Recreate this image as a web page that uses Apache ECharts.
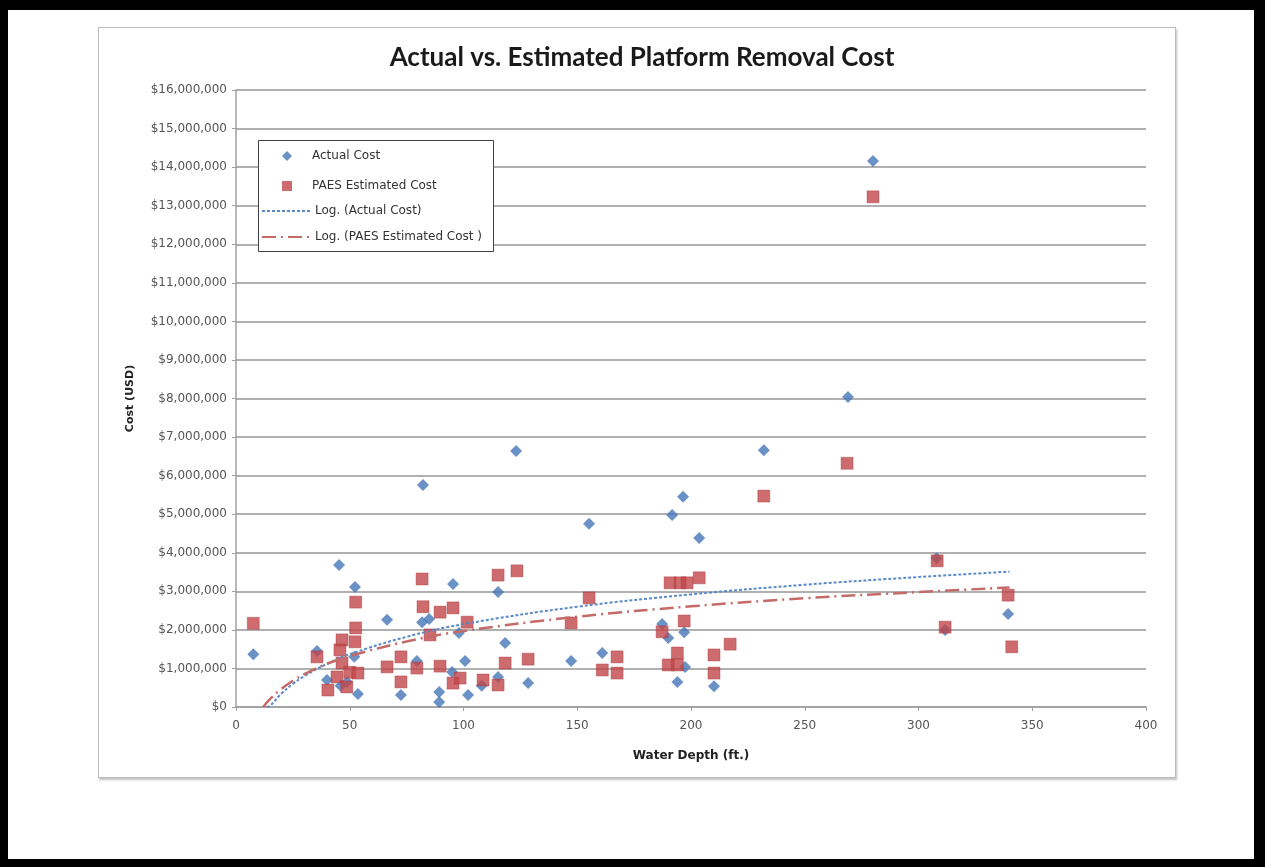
<!DOCTYPE html>
<html>
<head>
<meta charset="utf-8">
<script src="https://cdn.jsdelivr.net/npm/echarts@6/dist/echarts.min.js"></script>
<style>
html,body{margin:0;padding:0;width:1265px;height:867px;background:#000;overflow:hidden;}
#page{position:absolute;left:8px;top:10px;width:1246px;height:849px;background:#fff;}
#box{position:absolute;left:98px;top:27px;width:1076px;height:749px;border:1px solid #bcbcbc;box-shadow:1px 2px 2px rgba(0,0,0,0.25);background:#fff;}
#chart{position:absolute;left:0;top:0;width:1265px;height:867px;}
</style>
</head>
<body>
<div id="page"></div>
<div id="box"></div>
<div id="chart"></div>
<script>
// Water depth (ft.) and cost (USD)
const actualDepth = [7.6, 35.6, 40, 45.3, 46, 48.8, 52, 52.3, 53.6, 66.4, 72.5, 79.5, 81.8, 82.2, 84.9, 89.3, 89.3, 95, 95.4, 98, 100.7, 102, 108, 115.2, 115.2, 118.3, 123.1, 128.4, 147.3, 155.2, 161, 187.3, 190, 191.7, 194, 196.5, 197, 197.4, 203.6, 210.1, 232, 269, 280, 308, 311.7, 339.4];
const actualCost  = [1370000, 1450000, 700000, 3680000, 550000, 650000, 1300000, 3110000, 340000, 2260000, 310000, 1190000, 2200000, 5760000, 2280000, 390000, 130000, 910000, 3190000, 1920000, 1190000, 310000, 550000, 2980000, 780000, 1660000, 6640000, 620000, 1190000, 4750000, 1400000, 2150000, 1790000, 4980000, 650000, 5450000, 1940000, 1040000, 4380000, 540000, 6660000, 8040000, 14160000, 3860000, 2000000, 2410000];

const paesDepth = [7.6, 35.6, 40.4, 44.4, 45.7, 46.6, 46.6, 48.7, 50, 52.3, 52.6, 52.6, 53.6, 66.4, 72.5, 72.5, 79.5, 81.8, 82.2, 85.3, 89.7, 89.7, 95.4, 95.4, 98.5, 101.6, 108.6, 115.2, 115.2, 118.3, 123.5, 128.4, 147.3, 155.2, 161, 167.5, 167.5, 187.3, 190, 190.8, 194, 194, 195.2, 197, 198.3, 203.6, 210.1, 210.1, 217.2, 232, 268.6, 280, 308.2, 311.7, 339.4, 341];
const paesCost  = [2170000, 1300000, 440000, 780000, 1480000, 1740000, 1140000, 520000, 900000, 1690000, 2050000, 2720000, 880000, 1040000, 1300000, 650000, 1010000, 3320000, 2600000, 1870000, 2460000, 1060000, 2570000, 620000, 750000, 2200000, 700000, 3420000, 570000, 1140000, 3530000, 1240000, 2180000, 2830000, 960000, 1300000, 880000, 1950000, 1090000, 3220000, 1400000, 1090000, 3220000, 2230000, 3220000, 3350000, 1350000, 880000, 1630000, 5470000, 6320000, 13230000, 3790000, 2070000, 2900000, 1560000];

// Logarithmic trendlines, values
const actualTrendDepth = [13.5, 15, 20, 25, 30, 40, 50, 75, 100, 150, 200, 250, 300, 340];
const actualTrendCost  = [0, 30000, 350000, 600000, 800000, 1120000, 1370000, 1820000, 2150000, 2600000, 2920000, 3170000, 3370000, 3510000];
const paesTrendDepth   = [12, 15, 20, 25, 30, 40, 50, 75, 100, 150, 200, 250, 300, 340];
const paesTrendCost    = [0, 210000, 470000, 680000, 850000, 1120000, 1320000, 1700000, 1970000, 2340000, 2610000, 2820000, 2980000, 3100000];

const seriesNames = ['Actual Cost', 'PAES Estimated Cost', 'Log. (Actual Cost)', 'Log. (PAES Estimated Cost )'];
const xTicks = [0, 50, 100, 150, 200, 250, 300, 350, 400];

function pairs(xs, ys){ return xs.map((x,i)=>[x, ys[i]]); }

const font = 'DejaVu Sans';
const blue = '#4677b8', red = '#c0464a', blueTrend = '#5a8ac6', redTrend = '#c46a68';
const chart = echarts.init(document.getElementById('chart'), null, {renderer:'canvas'});
chart.setOption({
  backgroundColor: 'transparent',
  animation: false,
  title: {
    text: 'Actual vs. Estimated Platform Removal Cost',
    left: 637, top: 40, textAlign: 'center',
    textStyle: {fontFamily: 'Lato', fontWeight: 'bold', fontSize: 26, color: '#1a1a1a'}
  },
  graphic: [{
    type: 'rect', z: 3, silent: true,
    shape: {x: 258.5, y: 140.5, width: 235, height: 111},
    style: {fill: '#fff', stroke: '#404040', lineWidth: 1}
  }],
  legend: [{
    orient: 'vertical', left: 282, top: 150, padding: 0,
    itemGap: 18, itemWidth: 10, itemHeight: 10, z: 5,
    textStyle: {fontFamily: font, fontSize: 12, color: '#333', padding: [0, 0, 0, 15]},
    data: [
      {name: seriesNames[0], icon: 'diamond', itemStyle: {borderWidth: 0}},
      {name: seriesNames[1], icon: 'rect', itemStyle: {borderWidth: 0}}
    ]
  }, {
    orient: 'vertical', left: 261, top: 205, padding: 0,
    itemGap: 14, itemWidth: 48, itemHeight: 13, z: 5,
    textStyle: {fontFamily: font, fontSize: 12, color: '#333'},
    data: [
      {name: seriesNames[2], itemStyle: {opacity: 0}},
      {name: seriesNames[3], itemStyle: {opacity: 0}}
    ]
  }],
  grid: {left: 236, top: 90, width: 910, height: 617, containLabel: false},
  xAxis: {
    type: 'value', min: 0, max: 400, interval: 50,
    name: 'Water Depth (ft.)', nameLocation: 'middle', nameGap: 43,
    nameTextStyle: {fontFamily: font, fontWeight: 'bold', fontSize: 12, color: '#222'},
    axisLine: {show: true, lineStyle: {color: '#a0a0a0', width: 1.5}},
    axisTick: {show: true, length: 4, lineStyle: {color: '#a0a0a0'}},
    axisLabel: {fontFamily: font, fontSize: 12, color: '#555', margin: 13,
      formatter: v => xTicks.includes(v) ? String(v) : ''},
    splitLine: {show: false}
  },
  yAxis: {
    type: 'value', min: 0, max: 16000000, interval: 1000000,
    name: 'Cost (USD)', nameLocation: 'middle', nameGap: 100, nameRotate: 90,
    nameTextStyle: {fontFamily: font, fontWeight: 'bold', fontSize: 11, color: '#222'},
    axisLine: {show: true, lineStyle: {color: '#a0a0a0', width: 1.5}},
    axisTick: {show: true, length: 4, lineStyle: {color: '#a0a0a0'}},
    axisLabel: {fontFamily: font, fontSize: 12, color: '#555', margin: 9,
      formatter: v => '$' + v.toLocaleString('en-US')},
    splitLine: {show: true, lineStyle: {color: '#b0b0b0', width: 2}}
  },
  series: [
    {name: seriesNames[0], type: 'scatter', symbol: 'diamond', symbolSize: 12,
     itemStyle: {color: blue}, data: pairs(actualDepth, actualCost), z: 3},
    {name: seriesNames[1], type: 'scatter', symbol: 'rect', symbolSize: 12,
     itemStyle: {color: red, borderColor: '#a83a3c', borderWidth: 0.5}, data: pairs(paesDepth, paesCost), z: 4},
    {name: seriesNames[2], type: 'line', showSymbol: false, symbol: 'none', smooth: 0.4, clip: true,
     lineStyle: {color: blueTrend, width: 2, type: [3, 2]}, itemStyle: {color: blueTrend},
     data: pairs(actualTrendDepth, actualTrendCost), z: 5},
    {name: seriesNames[3], type: 'line', showSymbol: false, symbol: 'none', smooth: 0.4, clip: true,
     lineStyle: {color: redTrend, width: 2.5, type: [14, 5, 2, 5]}, itemStyle: {color: redTrend},
     data: pairs(paesTrendDepth, paesTrendCost), z: 5}
  ]
});
</script>
</body>
</html>
